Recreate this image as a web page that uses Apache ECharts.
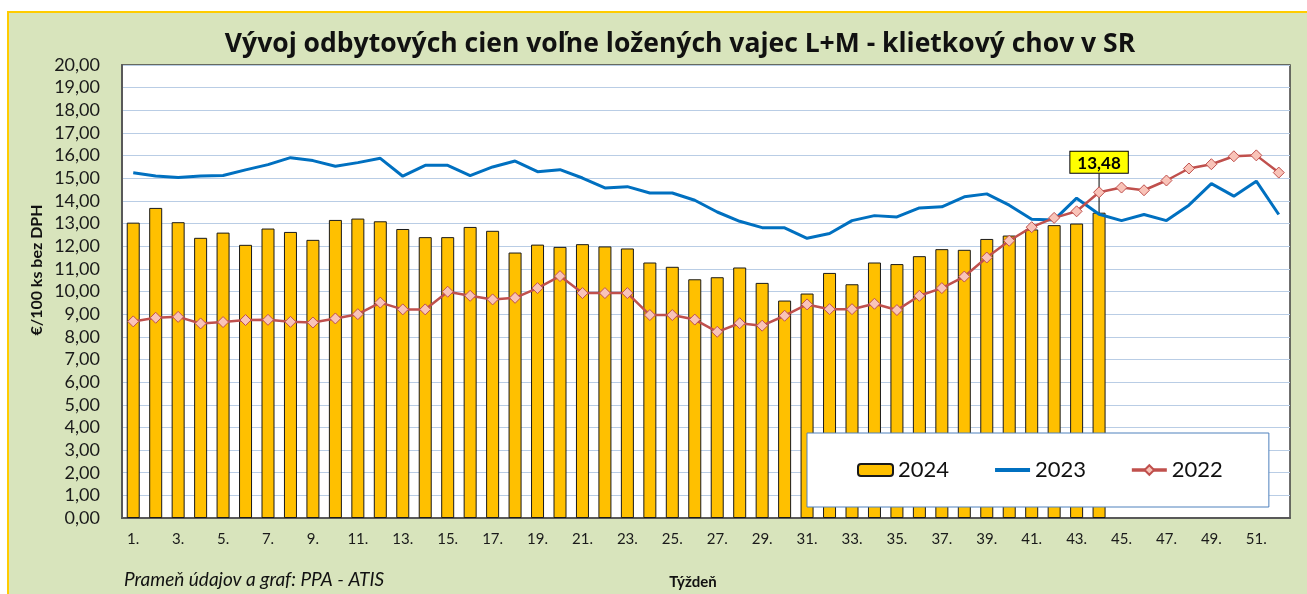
<!DOCTYPE html>
<html>
<head>
<meta charset="utf-8">
<script src="https://cdn.jsdelivr.net/npm/echarts@6/dist/echarts.min.js"></script>
<style>
html,body{margin:0;padding:0;background:#fff;}
#chart{width:1307px;height:594px;}
</style>
</head>
<body>
<div id="chart"></div>
<script>
const weeks = ["1.","2.","3.","4.","5.","6.","7.","8.","9.","10.","11.","12.","13.","14.","15.","16.","17.","18.","19.","20.","21.","22.","23.","24.","25.","26.","27.","28.","29.","30.","31.","32.","33.","34.","35.","36.","37.","38.","39.","40.","41.","42.","43.","44.","45.","46.","47.","48.","49.","50.","51.","52."];

const v2024 = [13.04,13.69,13.06,12.37,12.60,12.06,12.78,12.63,12.28,13.16,
  13.22,13.10,12.76,12.40,12.40,12.85,12.68,11.72,12.07,11.97,
  12.09,11.99,11.90,11.28,11.09,10.54,10.63,11.06,10.38,9.60,
  9.91,10.82,10.32,11.28,11.21,11.56,11.87,11.84,12.32,12.47,
  12.74,12.93,13.00,13.48];

const v2023 = [15.24,15.10,15.03,15.10,15.12,15.37,15.60,15.91,15.78,15.53,
  15.69,15.88,15.09,15.57,15.57,15.12,15.50,15.76,15.29,15.38,
  15.01,14.57,14.63,14.35,14.35,14.03,13.51,13.10,12.82,12.81,
  12.35,12.56,13.13,13.35,13.29,13.69,13.74,14.18,14.31,13.81,
  13.19,13.16,14.12,13.41,13.13,13.40,13.13,13.81,14.76,14.21,
  14.87,13.40];

const v2022 = [8.68,8.84,8.88,8.59,8.65,8.74,8.75,8.66,8.63,8.81,
  9.00,9.51,9.21,9.21,9.99,9.81,9.65,9.72,10.15,10.68,
  9.93,9.93,9.93,8.96,8.96,8.76,8.22,8.60,8.49,8.93,
  9.43,9.22,9.22,9.46,9.18,9.81,10.15,10.66,11.50,12.24,
  12.84,13.25,13.54,14.38,14.59,14.47,14.90,15.43,15.62,15.97,
  16.01,15.25];

const seriesNames = ["2024","2023","2022"];
const titleText = "Vývoj odbytových cien voľne ložených vajec L+M - klietkový chov v SR";
const yAxisTitle = "€/100 ks bez DPH";
const xAxisTitle = "Týždeň";
const sourceText = "Prameň údajov a graf: PPA - ATIS";

const FONT = "Lato";
const TFONT = "'Open Sans'";
const fmt = v => v.toFixed(2).replace('.', ',');

const lastIdx = v2024.length - 1;
const barData = v2024.map((v, i) => {
  if (i !== lastIdx) return v;
  return {
    value: v,
    label: {
      show: true,
      position: 'top',
      distance: 4,
      formatter: p => fmt(p.value),
      backgroundColor: '#FFFF00',
      borderColor: '#000',
      borderWidth: 1,
      padding: [3, 7, 1, 7],
      fontFamily: FONT,
      fontWeight: 'bold',
      fontSize: 17,
      color: '#000'
    }
  };
});

const chart = echarts.init(document.getElementById('chart'));
chart.setOption({
  animation: false,
  textStyle: { fontFamily: FONT },
  graphic: [
    { type: 'rect', z: -10, shape: { x: 8, y: 12, width: 1320, height: 600 },
      style: { fill: '#D8E4BC', stroke: '#FFCC00', lineWidth: 2 } },
    { type: 'text', x: 680, y: 44, z: 10,
      style: { text: titleText, fill: '#111', font: "bold 26.5px " + TFONT, textAlign: 'center', textVerticalAlign: 'middle' } },
    { type: 'text', x: 37, y: 270, rotation: Math.PI / 2, z: 10,
      style: { text: yAxisTitle, fill: '#111', font: "bold 16px " + FONT, textAlign: 'center', textVerticalAlign: 'middle' } },
    { type: 'text', x: 693, y: 582, z: 10,
      style: { text: xAxisTitle, fill: '#111', font: "bold 15px " + FONT, textAlign: 'center', textVerticalAlign: 'middle' } },
    { type: 'text', x: 124, y: 580, z: 10,
      style: { text: sourceText, fill: '#111', font: "italic 19px " + FONT, textAlign: 'left', textVerticalAlign: 'middle' } }
  ],
  grid: {
    left: 122, top: 65, right: 17, bottom: 76,
    show: true, backgroundColor: '#fff', borderColor: '#404040', borderWidth: 1.5
  },
  legend: {
    left: 807, top: 433,
    data: [
      { name: seriesNames[0] },
      { name: seriesNames[1], itemStyle: { opacity: 0 }, lineStyle: { width: 4 } },
      { name: seriesNames[2], lineStyle: { width: 3.5 } }
    ],
    backgroundColor: '#fff',
    borderColor: '#4F81BD',
    borderWidth: 1,
    padding: [26, 46, 26, 50],
    itemGap: 44,
    itemWidth: 35,
    itemHeight: 12,
    textStyle: { fontFamily: FONT, fontSize: 22, color: '#111' }
  },
  xAxis: {
    type: 'category',
    data: weeks,
    axisTick: { show: false },
    axisLine: { lineStyle: { color: '#595959', width: 2 } },
    axisLabel: { interval: 1, fontSize: 15, color: '#1a1a1a', margin: 14, fontFamily: FONT },
    splitLine: { show: false }
  },
  yAxis: {
    type: 'value',
    min: 0, max: 20, interval: 1,
    axisLine: { show: true, lineStyle: { color: '#595959', width: 2 } },
    axisTick: { show: false },
    axisLabel: { formatter: v => fmt(v), fontSize: 18, color: '#1a1a1a', margin: 22, fontFamily: FONT },
    splitLine: { lineStyle: { color: '#B9CDE5', width: 1 } }
  },
  series: [
    {
      name: seriesNames[0], type: 'bar', data: barData, barWidth: 13,
      itemStyle: { color: '#FFC000', borderColor: '#1a1a1a', borderWidth: 1 },
      labelLayout: p => (p.dataIndex === lastIdx ? { dy: -36 } : {}),
      labelLine: { show: true, lineStyle: { color: '#000', width: 1 } },
      z: 2
    },
    {
      name: seriesNames[1], type: 'line', data: v2023, symbol: 'none',
      lineStyle: { color: '#0070C0', width: 3 },
      itemStyle: { color: '#0070C0' },
      z: 3
    },
    {
      name: seriesNames[2], type: 'line', data: v2022, symbol: 'diamond', symbolSize: 11,
      lineStyle: { color: '#C0504D', width: 2.5 },
      itemStyle: { color: '#F9C3B8', borderColor: '#C0504D', borderWidth: 1 },
      z: 4
    }
  ]
});
</script>
</body>
</html>
